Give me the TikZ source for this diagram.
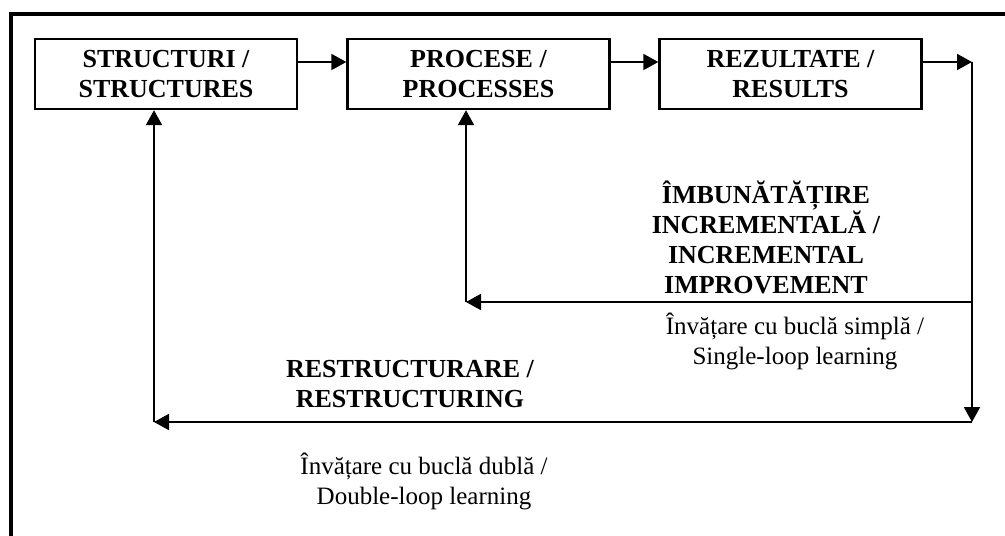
\documentclass[tikz,border=0pt]{standalone}
\usepackage{fontspec}
\setmainfont{Liberation Serif}
\usetikzlibrary{arrows.meta, positioning}

\tikzset{
  stage/.style={draw, line width=2.4pt, minimum width=262pt, minimum height=70pt,
    align=center, font=\bfseries\fontsize{26}{30}\selectfont},
  flow/.style={line width=2pt, -{Triangle[length=15pt,width=16pt]}},
  boldlabel/.style={align=center, inner sep=0pt, font=\bfseries\fontsize{26}{30}\selectfont},
  plainlabel/.style={align=center, inner sep=0pt, font=\fontsize{25}{30}\selectfont}
}

\begin{document}
\begin{tikzpicture}[x=1pt, y=-1pt]
    \useasboundingbox (0,0) rectangle (1005,536);
    % frame, runs off the page at right and bottom
    \draw[line width=3.5pt] (11,570) -- (11,14) -- (1040,14);

    \node[stage] (S) at (166,74) {STRUCTURI /\\STRUCTURES};
    \node[stage] (P) at (478.5,74) {PROCESE /\\PROCESSES};
    \node[stage] (R) at (790.5,74) {REZULTATE /\\RESULTS};

    \coordinate (K) at (972,62);
    \coordinate (T) at (972,302);
    \coordinate (B) at (972,422);
    \coordinate (L1) at (466,302);
    \coordinate (L2) at (154,422);

    \draw[flow] ([yshift=12pt]S.east) -- ([yshift=12pt]P.west);
    \draw[flow] ([yshift=12pt]P.east) -- ([yshift=12pt]R.west);
    \draw[flow] ([yshift=12pt]R.east) -- (K);
    \draw[flow] (K) -- (B);
    % single loop back to the processes
    \draw[flow] (T) -- (L1);
    \draw[flow] (L1) -- (L1 |- P.south);
    % double loop back to the structures
    \draw[flow] (B) -- (L2);
    \draw[flow] (L2) -- (L2 |- S.south);

    \node[boldlabel] (IMB) at (766,237) {ÎMBUNĂTĂȚIRE\\INCREMENTALĂ /\\INCREMENTAL\\IMPROVEMENT};
    \node[plainlabel] (SLL) at (795,341) {Învățare cu buclă simplă /\\Single-loop learning};
    \node[boldlabel] (RST) at (410,384) {RESTRUCTURARE /\\RESTRUCTURING};
    \node[plainlabel] (DLL) at (424,481) {Învățare cu buclă dublă /\\Double-loop learning};
\end{tikzpicture}
\end{document}
